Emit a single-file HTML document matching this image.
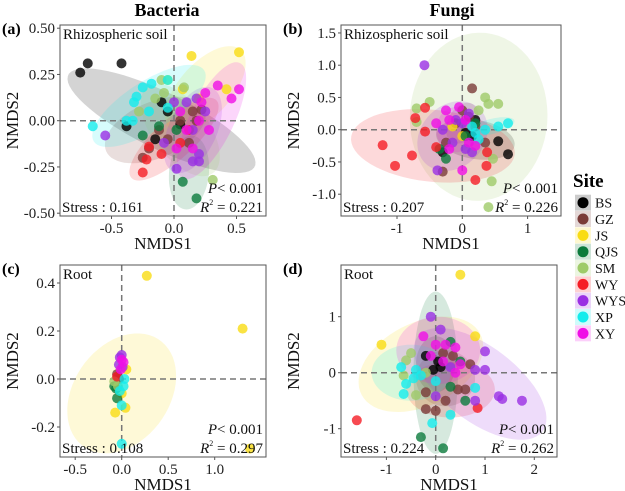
<!DOCTYPE html>
<html><head><meta charset="utf-8">
<style>
html,body{margin:0;padding:0;background:#fff;}
svg{display:block;}
text{font-family:"Liberation Serif","DejaVu Serif",serif;}
</style></head>
<body>
<svg id="chart" width="625" height="491" viewBox="0 0 625 491" xmlns="http://www.w3.org/2000/svg">
<text x="167" y="16" text-anchor="middle" font-size="18" font-weight="bold">Bacteria</text>
<text x="452" y="16" text-anchor="middle" font-size="18" font-weight="bold">Fungi</text>
</svg>
<script>
const sites = ["BS","GZ","JS","QJS","SM","WY","WYS","XP","XY"];
const colors = ["#000000","#7a3b38","#f9dc14","#0b7a3c","#9fcb69","#f51d25","#9a2fe3","#14ecec","#f00ee6"];

const aPts = [
 [[-0.75,0.26],[-0.69,0.31],[-0.42,0.31],[-0.38,-0.03],[-0.1,0.1],[-0.05,0.05],[-0.15,-0.1],[0.05,-0.02]],
 [[-0.25,-0.2],[-0.2,-0.15],[-0.12,-0.05],[0.05,0.0],[0.15,0.05],[0.22,0.06],[0.18,0.0],[-0.05,-0.1],[0.12,-0.12]],
 [[0.14,0.35],[0.52,0.37],[0.42,0.17],[0.07,0.17],[-0.05,0.22],[0.2,0.12]],
 [[0.07,-0.33],[0.18,-0.42],[-0.25,-0.08],[-0.12,-0.03],[0.02,-0.05]],
 [[0.31,-0.32],[-0.1,0.22],[-0.15,0.12],[-0.28,0.05],[-0.08,0.15],[0.08,0.18]],
 [[-0.25,-0.28],[-0.22,-0.21],[-0.2,-0.14],[-0.1,-0.18],[0.05,-0.12],[0.12,-0.05]],
 [[-0.55,-0.08],[0.02,-0.26],[0.15,-0.22],[0.2,-0.22],[0.2,-0.18],[0.1,0.1],[0.18,0.12],[0.15,-0.05],[0.0,0.1],[-0.08,-0.12],[0.25,0.05]],
 [[-0.65,-0.03],[-0.38,0.0],[-0.33,0.0],[-0.32,0.1],[-0.3,0.13],[-0.25,0.18],[-0.18,0.2],[-0.05,0.22],[-0.2,0.05],[-0.05,0.07]],
 [[0.35,0.19],[0.46,0.12],[0.52,0.17],[0.25,0.15],[0.2,0.0],[0.1,-0.05],[0.15,-0.15],[0.02,-0.15],[0.28,-0.05],[0.05,0.05],[0.22,0.1]]
];
const aEll = [
 [-0.1,0.0,0.75,-0.24,0.06,0.15],[-0.15,-0.05,0.4,0.1,0.05,-0.15],[0.25,0.17,0.3,0.2,-0.12,0.12],
 [0.12,-0.28,0.02,0.2,0.16,0],[0.05,-0.05,0.3,-0.2,0.1,0.15],[0.0,-0.1,0.35,0.2,-0.07,0.1],
 [0.15,-0.05,0.2,0.2,0.12,-0.12],[-0.2,0.08,0.45,0.18,-0.06,0.13],[0.3,0.0,0.25,0.3,0.12,-0.1]
];
const aXTicks = [-0.5,0.0,0.5];
const aXLabels = ["-0.5","0.0","0.5"];
const aYTicks = [0.5,0.25,0,-0.25,-0.5];
const aYLabels = ["0.50","0.25","0.00","-0.25","-0.50"];

const bPts = [
 [[0.7,-0.38],[0.55,-0.18],[-0.3,-0.35],[0.15,-0.1],[0.2,0.15],[0.05,-0.05]],
 [[0.15,0.64],[-0.3,-0.65],[0.0,0.3],[-0.1,0.1],[0.1,0.2],[-0.25,-0.2],[0.35,-0.2],[0.2,0.05]],
 [[0.0,-0.1],[-0.15,0.05]],
 [[-0.35,-0.3],[-0.25,-0.45],[0.2,0.1],[0.05,-0.1]],
 [[-0.7,0.33],[-0.5,0.43],[-0.7,0.12],[0.35,0.5],[0.4,0.4],[0.55,0.4],[0.47,-0.45],[0.45,-0.8],[0.4,-1.2],[0.25,0.3]],
 [[-1.22,-0.24],[-1.03,-0.56],[-0.77,-0.4],[-0.72,0.18],[-0.57,0.34],[-0.57,-0.03],[0.2,-0.78],[0.37,-0.56],[0.38,-0.35],[-0.4,-0.27]],
 [[-0.58,1.0],[-0.38,-0.63],[-0.3,0.0],[-0.1,0.15],[0.1,0.25],[0.0,0.1],[-0.15,-0.2],[0.05,-0.3],[0.15,-0.35]],
 [[0.55,0.05],[0.7,0.1],[0.25,-0.15],[0.35,0.0],[0.2,-0.05],[0.15,0.05]],
 [[0.0,-0.63],[-0.2,-0.3],[-0.4,0.1],[-0.2,0.15],[0.1,-0.2],[0.05,0.15],[-0.05,0.35],[0.2,-0.25],[-0.25,0.3]]
];
const bEll = [
 [0.2,-0.15,0.6,-0.1,0.05,0.3],[0.0,0.1,0.25,0.1,0,0.3],null,null,
 [0.25,0.2,0.1,1.3,1.05,-0.1],[-0.45,-0.25,1.25,-0.15,0.1,0.55],
 [-0.15,-0.1,0.5,0.3,-0.2,0.45],[0.45,0.05,0.35,0.08,0.0,0.12],[-0.1,0.0,0.3,0.0,0,0.35]
];
const bXTicks = [-1,0,1];
const bXLabels = ["-1","0","1"];
const bYTicks = [1.5,1.0,0.5,0.0,-0.5,-1.0];
const bYLabels = ["1.5","1.0","0.5","0.0","-0.5","-1.0"];

const cPts = [
 [[-0.03,0.0]],
 [[-0.04,0.01],[-0.03,0.0],[-0.05,0.02]],
 [[0.27,0.43],[1.3,0.21],[1.38,-0.29],[-0.07,-0.14],[0.05,0.04],[0.04,-0.12],[0.0,-0.06]],
 [[-0.08,-0.03],[-0.05,-0.08],[-0.06,-0.04]],
 [[-0.04,-0.03],[-0.08,-0.01]],
 [[-0.05,0.01]],
 [[-0.02,0.09],[0.0,0.1],[-0.03,0.06],[0.01,0.05]],
 [[0.0,-0.27],[0.0,-0.11],[0.02,-0.03],[0.03,0.0],[-0.02,-0.05]],
 [[0.02,0.07],[-0.01,0.04],[0.0,0.08]]
];
const cEll = [null,null,[0.0,-0.06,0.55,0.15,-0.2,0.2],null,null,null,null,null,null];
const cXTicks = [-0.5,0.0,0.5,1.0];
const cXLabels = ["-0.5","0.0","0.5","1.0"];
const cYTicks = [0.4,0.2,0.0,-0.2];
const cYLabels = ["0.4","0.2","0.0","-0.2"];

const dPts = [
 [[-0.2,0.3],[0.05,0.2],[0.1,0.1],[-0.05,0.05]],
 [[-0.2,-0.65],[0.0,-0.68],[0.2,-0.5],[0.45,-0.3],[0.7,0.15],[-0.2,-0.35],[0.35,0.3],[0.6,-0.3],[0.15,0.35]],
 [[0.5,1.75],[-1.1,0.5],[0.8,0.65]],
 [[-0.3,-1.15],[0.15,-1.35],[0.3,0.55],[0.5,0.2],[0.6,-0.5],[0.3,-0.25]],
 [[-0.6,0.22],[-0.65,-0.05],[-0.4,-0.4],[-0.5,0.35],[-0.2,0.0]],
 [[-1.6,-0.85],[0.85,-0.63]],
 [[-0.1,1.0],[0.1,0.77],[1.0,0.38],[1.0,0.05],[1.28,-0.42],[1.35,-0.47],[1.75,-0.5],[0.8,0.05],[0.8,-0.5],[0.0,-0.42],[0.3,0.1]],
 [[-0.7,0.1],[-0.6,-0.2],[-0.65,-0.38],[-0.4,0.05],[-0.3,-0.05],[0.0,-0.15],[-0.07,-0.9],[0.3,-0.75],[0.8,-0.27],[-0.45,-0.1]],
 [[-0.25,0.65],[0.4,0.45],[0.0,0.5],[0.2,0.5],[-0.1,0.3],[0.15,0.2],[0.4,0.0],[0.5,0.15]]
];
const dEll = [
 [0.0,0.15,0.4,0,0,0.5],[0.2,-0.1,0.6,0,0,0.5],[-0.3,0.15,1.2,0.55,-0.4,0.65],[0.0,0.0,0.0,1.45,0.45,0],
 null,[0.3,-0.3,0.9,0,0,0.5],[0.9,-0.2,1.3,-0.8,0.35,0.6],[-0.5,0.0,0.8,0,0,0.5],[0.05,0.4,0.85,0,0,0.6]
];
const dXTicks = [-1,0,1,2];
const dXLabels = ["-1","0","1","2"];
const dYTicks = [1,0,-1];
const dYLabels = ["1","0","-1"];

const NS = "http://www.w3.org/2000/svg";
const svg = document.getElementById("chart");
function mk(tag, attrs, parent){
  const e = document.createElementNS(NS, tag);
  for (const k in attrs) e.setAttribute(k, attrs[k]);
  (parent||svg).appendChild(e);
  return e;
}

function panel(p){
  const g = mk("g", {});
  
  
  const sx = v => p.x0 + (v - p.xa) * p.kx;
  const sy = v => p.y0 - (v - p.ya) * p.ky;
  const clipId = "clip" + p.id;
  const cp = mk("clipPath", {id: clipId}, g);
  mk("rect", {x:p.L, y:p.T, width:p.R-p.L, height:p.B-p.T}, cp);
  const inner = mk("g", {"clip-path":"url(#"+clipId+")"}, g);
  p.ell.forEach((e, i) => {
    if (!e) return;
    let d = "";
    for (let t = 0; t <= 64; t++){
      const a = t/64*2*Math.PI;
      const X = e[0] + e[2]*Math.cos(a) + e[4]*Math.sin(a);
      const Y = e[1] + e[3]*Math.cos(a) + e[5]*Math.sin(a);
      d += (t ? "L" : "M") + sx(X).toFixed(1) + "," + sy(Y).toFixed(1);
    }
    const el = mk("path", {d: d + "Z", fill: colors[i], "fill-opacity": 0.17, stroke: "none"}, inner);
    
    
  });
  const vl = mk("line", {x1:sx(0), x2:sx(0), y1:p.T, y2:p.B, stroke:"#777", "stroke-width":1.5, "stroke-dasharray":"6,4"}, inner);
  
  
  const hl = mk("line", {x1:p.L, x2:p.R, y1:sy(0), y2:sy(0), stroke:"#777", "stroke-width":1.5, "stroke-dasharray":"6,4"}, inner);
  
  
  p.pts.forEach((arr, i) => {
    arr.forEach(pt => {
      const c = mk("circle", {cx:sx(pt[0]), cy:sy(pt[1]), r:5, fill:colors[i], "fill-opacity":0.8}, inner);
      
      
    });
  });
  const fr = mk("rect", {x:p.L, y:p.T, width:p.R-p.L, height:p.B-p.T, fill:"none", stroke:"#555", "stroke-width":1}, g);
  
  
  p.xt.forEach((v, i) => {
    mk("line", {x1:sx(v), x2:sx(v), y1:p.B, y2:p.B+3, stroke:"#555"}, g);
    const t = mk("text", {x:sx(v), y:p.B+17, "text-anchor":"middle", "font-size":15, fill:"#222"}, g);
    t.textContent = p.xl[i];
    
    
  });
  p.yt.forEach((v, i) => {
    mk("line", {x1:p.L-3, x2:p.L, y1:sy(v), y2:sy(v), stroke:"#555"}, g);
    const t = mk("text", {x:p.L-5, y:sy(v)+5, "text-anchor":"end", "font-size":15, fill:"#222"}, g);
    t.textContent = p.yl[i];
    
    
  });
  const xt = mk("text", {x:(p.L+p.R)/2, y:p.B+33, "text-anchor":"middle", "font-size":17, fill:"#111"}, g);
  xt.textContent = "NMDS1";
  
  
  const yx = p.L - 42, yy = (p.T+p.B)/2;
  const yt = mk("text", {x:yx, y:yy, "text-anchor":"middle", "font-size":17, fill:"#111", transform:"rotate(-90 "+yx+" "+yy+")"}, g);
  yt.textContent = "NMDS2";
  
  
  const lab = mk("text", {x:p.L-58, y:p.T+9, "font-size":16, "font-weight":"bold"}, g);
  lab.textContent = "(" + p.id + ")";
  
  
  const sub = mk("text", {x:p.L+3, y:p.T+14, "font-size":15, fill:"#111"}, g);
  sub.textContent = p.sub;
  
  
  const st = mk("text", {x:p.L+2, y:p.B-4, "font-size":15, fill:"#111"}, g);
  st.textContent = "Stress : " + p.stress;
  
  
  const pv = mk("text", {x:p.R-3, y:p.B-23, "text-anchor":"end", "font-size":15, fill:"#111"}, g);
  pv.innerHTML = '<tspan font-style="italic">P</tspan>&lt;  0.001';
  
  
  const rv = mk("text", {x:p.R-3, y:p.B-4, "text-anchor":"end", "font-size":15, fill:"#111"}, g);
  rv.innerHTML = '<tspan font-style="italic">R</tspan><tspan font-size="8" dy="-7">2</tspan><tspan dy="7"> = ' + p.r2 + '</tspan>';
  
  
}

panel({id:"a", L:60, R:266, T:25, B:216, xa:0, x0:174, kx:125, ya:0, y0:120.7, ky:185,
  pts:aPts, ell:aEll, xt:aXTicks, xl:aXLabels, yt:aYTicks, yl:aYLabels, sub:"Rhizospheric soil", stress:"0.161", r2:"0.221"});
panel({id:"b", L:341, R:561, T:25, B:216, xa:0, x0:462.3, kx:65.3, ya:0, y0:129.7, ky:64.5,
  pts:bPts, ell:bEll, xt:bXTicks, xl:bXLabels, yt:bYTicks, yl:bYLabels, sub:"Rhizospheric soil", stress:"0.207", r2:"0.226"});
panel({id:"c", L:60, R:266, T:265, B:457, xa:0, x0:121.7, kx:93, ya:0, y0:379, ky:240,
  pts:cPts, ell:cEll, xt:cXTicks, xl:cXLabels, yt:cYTicks, yl:cYLabels, sub:"Root", stress:"0.108", r2:"0.297"});
panel({id:"d", L:341, R:557, T:265, B:457, xa:0, x0:435.7, kx:49.3, ya:0, y0:372.7, ky:56,
  pts:dPts, ell:dEll, xt:dXTicks, xl:dXLabels, yt:dYTicks, yl:dYLabels, sub:"Root", stress:"0.224", r2:"0.262"});

const lg = mk("g", {});


const lt = mk("text", {x:573, y:187, "font-size":19, "font-weight":"bold"}, lg);
lt.textContent = "Site";


sites.forEach((s, i) => {
  const cy = 202.7 + i*16.33;
  const e = mk("g", {}, lg);
  
  
  mk("rect", {x:575, y:cy-8, width:16, height:16, fill:colors[i], "fill-opacity":0.2}, e);
  mk("circle", {cx:583, cy:cy, r:5.5, fill:colors[i]}, e);
  const t = mk("text", {x:595, y:cy+5, "font-size":14, fill:"#111"}, e);
  t.textContent = s;
});
</script>
</body></html>
